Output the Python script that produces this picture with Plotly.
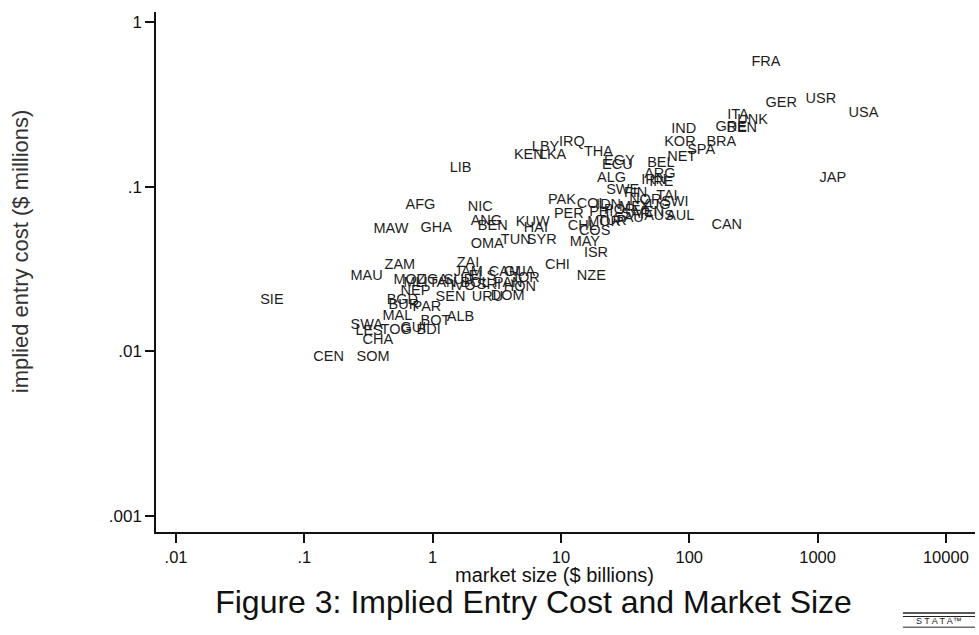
import plotly.graph_objects as go

# country codes, market size ($ billions), implied entry cost ($ millions)
countries = [
    "FRA", "USR", "GER", "USA", "ITA", "UNK", "GRE", "DEN", "IND", "KOR",
    "SPA", "BRA", "NET", "BEL", "JAP", "CAN", "AUL", "AUS", "TAI", "SWI",
    "IRQ", "THA", "KEN", "LKA", "LIB", "AFG", "NIC", "MAW", "GHA", "ANG",
    "BEN", "KUW", "HAI", "OMA", "TUN", "SYR", "PAK", "COL", "PER", "CHL",
    "COS", "MAY", "ISR", "CHI", "NZE", "EGY", "ECU", "ALG", "ARG", "IRN",
    "IRE", "SWE", "FIN", "NOR", "POR", "MEX", "VEN", "SAU", "TUR", "YUG",
    "SAF", "PHI", "IDN", "MOR", "LBY",
    "ZAM", "MAU", "ZAI", "NEP", "SEN", "SIE", "MAL", "CHA", "CEN", "SOM",
    "MOZ", "MLI", "UGA", "TAN", "SUD", "JAM", "ELS", "CAM", "GUA", "BOL",
    "SRI", "PAN", "HON", "IVO", "URU", "DOM", "JOR", "BGD", "BUR", "PAR",
    "BOT", "ALB", "SWA", "LES", "TOG", "GUI", "BDI",
]
market_size = [
    305, 806, 393, 1746, 198, 237, 160, 195, 72.3, 63.8,
    96.4, 136, 67.3, 47.0, 1037, 149, 66.1, 44.5, 55.2, 60.4,
    9.64, 15.1, 4.30, 6.73, 1.36, 0.615, 1.875, 0.346, 0.805, 1.98,
    2.25, 4.45, 5.14, 1.98, 3.40, 5.42, 7.91, 13.3, 8.81, 11.3,
    13.8, 11.7, 15.1, 7.50, 13.3, 21.7, 20.9, 19.1, 44.5, 42.2,
    48.7, 22.5, 31.0, 34.0, 21.7, 28.4, 37.2, 25.9, 19.1, 40.7,
    29.4, 16.6, 18.8, 16.0, 5.93,
    0.422, 0.229, 1.54, 0.562, 1.055, 0.0453, 0.407, 0.284, 0.1175, 0.255,
    0.495, 0.593, 0.750, 0.931, 1.22, 1.46, 1.91, 2.74, 3.59, 1.65,
    2.21, 3.00, 3.59, 1.38, 2.02, 2.84, 4.07, 0.438, 0.453, 0.698,
    0.805, 1.29, 0.229, 0.250, 0.393, 0.562, 0.750,
]
entry_cost = [
    0.572, 0.341, 0.322, 0.280, 0.272, 0.254, 0.2305, 0.227, 0.224, 0.187,
    0.167, 0.187, 0.151, 0.139, 0.113, 0.0585, 0.0664, 0.0664, 0.0878, 0.0807,
    0.187, 0.1625, 0.156, 0.156, 0.130, 0.0774, 0.0753, 0.0554, 0.0561, 0.0619,
    0.0577, 0.0610, 0.0561, 0.0449, 0.0475, 0.0475, 0.083, 0.0785, 0.0683, 0.0577,
    0.0538, 0.0462, 0.0396, 0.0335, 0.0287, 0.143, 0.1355, 0.113, 0.119, 0.110,
    0.1068, 0.0955, 0.0916, 0.083, 0.0722, 0.0753, 0.0702, 0.0646, 0.0619, 0.0774,
    0.0683, 0.0702, 0.0774, 0.0610, 0.174,
    0.0335, 0.0287, 0.0344, 0.0230, 0.0214, 0.0205, 0.0162, 0.0117, 0.00925, 0.00925,
    0.0268, 0.0260, 0.0268, 0.0260, 0.0268, 0.0303, 0.0287, 0.0303, 0.0303, 0.0260,
    0.0253, 0.0260, 0.0246, 0.0249, 0.0214, 0.0217, 0.0279, 0.0205, 0.0191, 0.0186,
    0.0153, 0.0160, 0.0143, 0.0133, 0.0135, 0.0137, 0.0135,
]

x_tickvals = [0.01, 0.1, 1, 10, 100, 1000, 10000]
x_ticktext = [".01", ".1", "1", "10", "100", "1000", "10000"]
y_tickvals = [0.001, 0.01, 0.1, 1]
y_ticktext = [".001", ".01", ".1", "1"]

FONT = "Liberation Sans, Arial, sans-serif"

fig = go.Figure()
fig.add_trace(go.Scatter(
    x=market_size, y=entry_cost, text=countries,
    mode="text", textposition="middle right",
    textfont=dict(family=FONT, size=14.5, color="#1e1e1e"),
    hoverinfo="text", showlegend=False,
))

fig.update_layout(
    width=979, height=635,
    paper_bgcolor="white", plot_bgcolor="white",
    margin=dict(l=156, r=4, t=12, b=103, autoexpand=False),
    font=dict(family=FONT, color="#111"),
    xaxis=dict(
        type="log", range=[-2.156, 4.227], automargin=False,
        tickvals=x_tickvals, ticktext=x_ticktext,
        showgrid=False, zeroline=False,
        showline=True, linecolor="#111", linewidth=1.5,
        ticks="outside", ticklen=9, tickwidth=1.5, tickcolor="#111",
        tickfont=dict(size=16.5, family=FONT, color="#111"),
    ),
    yaxis=dict(
        type="log", range=[-3.097, 0.061], automargin=False,
        tickvals=y_tickvals, ticktext=y_ticktext,
        showgrid=False, zeroline=False,
        showline=True, linecolor="#111", linewidth=1.5,
        ticks="outside", ticklen=9, tickwidth=1.5, tickcolor="#111",
        tickfont=dict(size=17, family=FONT, color="#111"),
    ),
    title=dict(
        text="Figure 3: Implied Entry Cost and Market Size",
        font=dict(size=32, family=FONT, color="#111"),
        x=0.545, xanchor="center", xref="container",
        y=0.053, yanchor="middle", yref="container",
    ),
    annotations=[
        dict(text="market size ($ billions)",
             xref="paper", yref="paper", x=0.487, y=-0.083,
             xanchor="center", yanchor="middle", showarrow=False,
             font=dict(size=20, family=FONT, color="#111")),
        dict(text="implied entry cost ($ millions)", textangle=-90,
             xref="paper", yref="paper", x=-0.166, y=0.54,
             xanchor="center", yanchor="middle", showarrow=False,
             font=dict(size=22, family=FONT, color="#333")),
        dict(text="S T A T A™", xref="paper", yref="paper", x=0.956, y=-0.172,
             xanchor="center", yanchor="middle", showarrow=False,
             font=dict(size=9, family=FONT, color="#222")),
    ],
    shapes=[
        dict(type="line", xref="paper", yref="paper", x0=0.912, x1=1.0,
             y0=-0.1558, y1=-0.1558, line=dict(color="#222", width=1.5)),
        dict(type="line", xref="paper", yref="paper", x0=0.912, x1=1.0,
             y0=-0.1625, y1=-0.1625, line=dict(color="#222", width=1)),
        dict(type="line", xref="paper", yref="paper", x0=0.912, x1=1.0,
             y0=-0.183, y1=-0.183, line=dict(color="#222", width=1)),
    ],
)

fig.write_html("out.html", config={"displayModeBar": False},
               post_script="document.body.style.margin='0px';")
